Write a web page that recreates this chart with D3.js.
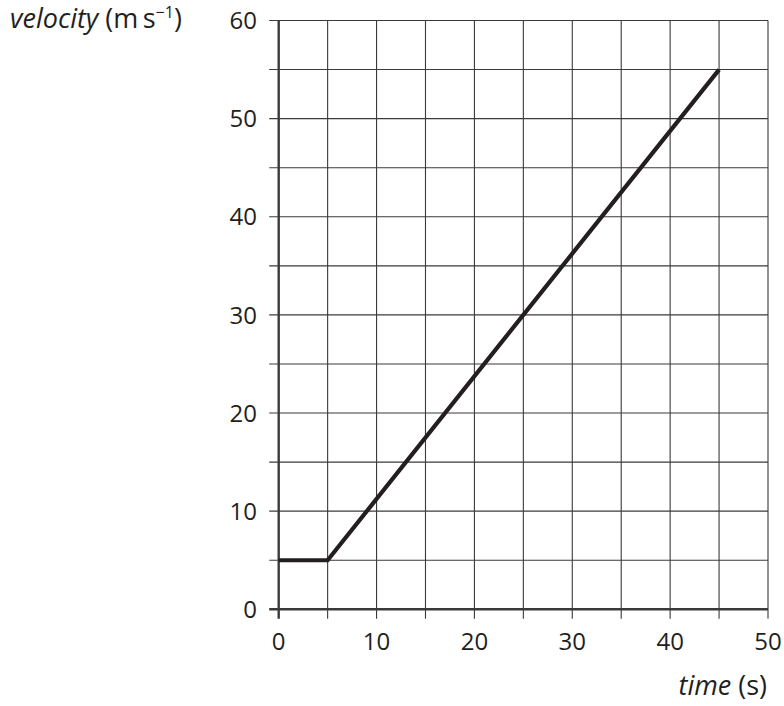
<!DOCTYPE html>
<html><head><meta charset="utf-8">
<script src="https://cdn.jsdelivr.net/npm/d3@7"></script>
<style>body{margin:0;background:#fff}svg{display:block}text{font-family:"Open Sans","Noto Sans",sans-serif;fill:#231f20}</style>
</head><body>
<script>
const timeVals = [0, 5, 45];
const velocityVals = [5, 5, 55];
const xTickLabels = [0, 10, 20, 30, 40, 50];
const yTickLabels = [0, 10, 20, 30, 40, 50, 60];
const gridStep = 5;

const W = 784, H = 706;
const svg = d3.select("body").append("svg").attr("width", W).attr("height", H);
const x = d3.scaleLinear().domain([0, 50]).range([278.7, 768]);
const y = d3.scaleLinear().domain([0, 60]).range([609.3, 20.5]);

const g = svg.append("g");
const gridX = d3.range(0, 50 + 0.001, gridStep);
const gridY = d3.range(0, 60 + 0.001, gridStep);
g.selectAll(".vg").data(gridX).join("line")
  .attr("x1", d => x(d)).attr("x2", d => x(d))
  .attr("y1", y(60)).attr("y2", y(0) + 9.5)
  .attr("stroke", "#3a3a3a").attr("stroke-width", d => d === 0 ? 2.4 : 1.1);
g.selectAll(".hg").data(gridY).join("line")
  .attr("y1", d => y(d)).attr("y2", d => y(d))
  .attr("x1", x(0) - 9.5).attr("x2", x(50))
  .attr("stroke", "#3a3a3a").attr("stroke-width", d => d === 0 ? 2.4 : 1.1);

g.selectAll(".xl").data(xTickLabels).join("text")
  .attr("x", d => x(d)).attr("y", 650).attr("text-anchor", "middle")
  .attr("font-size", 24).text(d => d);
g.selectAll(".yl").data(yTickLabels).join("text")
  .attr("x", 257).attr("y", d => y(d) + 8.6).attr("text-anchor", "end")
  .attr("font-size", 24).text(d => d);

const line = d3.line().x(d => x(d[0])).y(d => y(d[1]));
g.append("path").datum(timeVals.map((t, i) => [t, velocityVals[i]]))
  .attr("d", line).attr("fill", "none").attr("stroke", "#231f20")
  .attr("stroke-width", 4.2).attr("stroke-linejoin", "miter");

const yt = svg.append("text").attr("x", 10).attr("y", 28).attr("font-size", 27);
yt.append("tspan").attr("font-style", "italic").text("velocity");
yt.append("tspan").text(" (m\u2009s");
yt.append("tspan").attr("font-size", 16).attr("dy", -10).text("\u22121");
yt.append("tspan").attr("dy", 10).text(")");

const xt = svg.append("text").attr("x", 767).attr("y", 695).attr("text-anchor", "end").attr("font-size", 27);
xt.append("tspan").attr("font-style", "italic").text("time");
xt.append("tspan").text(" (s)");
</script>
</body></html>
